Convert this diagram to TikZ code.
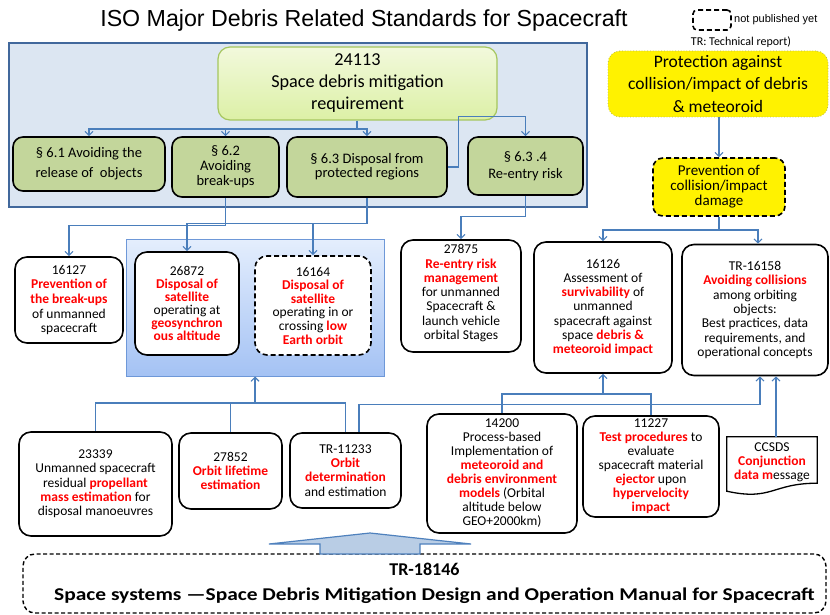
\documentclass[tikz,border=0pt]{standalone}
\usepackage{fontspec}
\usepackage{graphicx}
\setmainfont{Carlito}
\newfontfamily\arialf{Liberation Sans}
\usetikzlibrary{arrows.meta,calc}
\definecolor{connblue}{HTML}{4A7EBB}
\definecolor{outerfill}{HTML}{DCE6F2}
\definecolor{outerdraw}{HTML}{41689C}
\definecolor{greenbox}{HTML}{C3D69B}
\definecolor{lgtop}{HTML}{F2F9DC}
\definecolor{lgbot}{HTML}{DCF0A6}
\definecolor{lgdraw}{HTML}{A5C65E}
\definecolor{grptop}{HTML}{E4EEFD}
\definecolor{grpbot}{HTML}{A4C2F4}
\definecolor{grpdraw}{HTML}{6E98D8}
\definecolor{bigarrfill}{HTML}{B9CDE5}
\definecolor{bigarrdraw}{HTML}{4F81BD}
\definecolor{protdraw}{HTML}{B8B84A}
\newcommand\redb[1]{{\color{red}\bfseries #1}}
\begin{document}
\begin{tikzpicture}[x=1pt,y=-1pt,
  conn/.style={draw=connblue, line width=1.1pt},
  arr/.style={conn, -{Straight Barb[length=4pt,width=8pt]}},
  wbox/.style={draw=black, line width=1.6pt, rounded corners=12pt, fill=white, align=center, inner sep=1pt, font=\fontsize{13.5}{14.3}\selectfont},
  dbox/.style={wbox, dash pattern=on 5pt off 3pt},
  gbox/.style={draw=black, line width=1.6pt, rounded corners=10pt, fill=greenbox, align=center, inner sep=1pt, font=\fontsize{14.5}{15}\selectfont},
  ybox/.style={fill=yellow, align=center, inner sep=1pt}
]
\useasboundingbox (0,0) rectangle (830,615);

% title and legend
\node[font=\arialf\fontsize{23.2}{27}\selectfont] (title) at (364,21) {ISO Major Debris Related Standards for Spacecraft};
\node[draw=black, line width=1.6pt, dash pattern=on 5pt off 3pt, rounded corners=4pt, minimum width=38pt, minimum height=20pt] (legbox) at (712,20) {};
\node[anchor=west, font=\arialf\fontsize{11}{13}\selectfont, inner sep=0pt] (legtxt) at (734,20) {not published yet};
\node[font=\fontsize{12}{13}\selectfont, inner sep=0pt] (legtr) at (741,42) {TR: Technical report)};

% outer blue box
\node[draw=outerdraw, line width=2pt, fill=outerfill, minimum width=578pt, minimum height=164pt] (outer) at (298,125) {};

% 24113
\node[draw=lgdraw, line width=1.2pt, top color=lgtop, bottom color=lgbot, rounded corners=12pt, minimum width=279pt, minimum height=73pt, align=center, font=\fontsize{18.2}{22}\selectfont] (n24113) at (357.5,83.5) {24113\\Space debris mitigation\\requirement};

% green section boxes
\node[gbox, minimum width=152pt, minimum height=54pt, font=\fontsize{14.5}{20}\selectfont] (s61) at (89,164) {§ 6.1 Avoiding the\\release of \ objects};
\node[gbox, minimum width=107pt, minimum height=60pt] (s62) at (225.5,167) {§ 6.2\\Avoiding\\break-ups};
\node[gbox, minimum width=160pt, minimum height=60pt, font=\fontsize{14.5}{14}\selectfont] (s63) at (367,167) {§ 6.3 Disposal from\\protected regions};
\node[gbox, minimum width=115pt, minimum height=58pt, font=\fontsize{14.5}{17}\selectfont] (s634) at (525.5,166) {§ 6.3 .4\\Re-entry risk};

% connectors inside the blue box
\coordinate (ja) at (357,129);
\draw[conn] (n24113.south -| ja) -- (ja);
\draw[arr] (ja) -| (s61.north);
\draw[arr] (ja) -| (s62.north);
\draw[arr] (ja) -| (s63.north);
\draw[arr] (s63.east) -- ++(11,0) |- ([yshift=20pt]s634.north) -- (s634.north);

% yellow boxes
\node[ybox, draw=protdraw, line width=0.8pt, dotted, rounded corners=12pt, minimum width=220pt, minimum height=66pt, font=\fontsize{17.5}{22.5}\selectfont] (prot) at (718,84) {Protection against\\collision/impact of debris\\\& meteoroid};
\node[ybox, draw=black, line width=1.6pt, dash pattern=on 5pt off 3pt, rounded corners=10pt, minimum width=132pt, minimum height=58pt, font=\fontsize{15}{15}\selectfont] (prev) at (719,187) {Prevention of\\collision/impact\\damage};
\draw[arr] (prot.south -| prev.north) -- (prev.north);

% group box (GEO / LEO disposal)
\node[draw=grpdraw, line width=1pt, top color=grptop, bottom color=grpbot, minimum width=258pt, minimum height=137pt] (grp) at (255,307.5) {};

% middle row
\node[wbox, minimum width=108pt, minimum height=86pt, font=\fontsize{13.5}{14.7}\selectfont] (n16127) at (69,300) {16127\\\redb{Prevention of}\\\redb{the break-ups}\\of unmanned\\spacecraft};
\node[wbox, minimum width=104pt, minimum height=103pt, font=\fontsize{13.5}{12.9}\selectfont] (n26872) at (187,303.5) {26872\\\redb{Disposal of}\\\redb{satellite}\\operating at\\\redb{geosynchron}\\\redb{ous altitude}};
\node[dbox, minimum width=116pt, minimum height=99pt, font=\fontsize{13.5}{13.6}\selectfont] (n16164) at (313,305.5) {16164\\\redb{Disposal of}\\\redb{satellite}\\operating in or\\crossing \redb{low}\\\redb{Earth orbit}};
\node[wbox, minimum width=120pt, minimum height=112pt, text depth=8pt] (n27875) at (461,296) {27875\\\redb{Re-entry risk}\\\redb{management}\\for unmanned\\Spacecraft \&\\launch vehicle\\orbital Stages};
\node[wbox, minimum width=138pt, minimum height=131pt] (n16126) at (603,307.5) {16126\\Assessment of\\\redb{survivability} of\\unmanned\\spacecraft against\\space \redb{debris \&}\\\redb{meteoroid impact}};
\node[wbox, minimum width=146pt, minimum height=131pt] (n16158) at (755,310) {TR-16158\\\redb{Avoiding collisions}\\among orbiting\\objects:\\Best practices, data\\requirements, and\\operational concepts};

% connectors to middle row
\draw[arr] (s62.south) |- ([yshift=31pt]n16127.north) -- (n16127.north);
\draw[arr] (s63.south) |- ([yshift=28pt]n26872.north) -- (n26872.north);
\draw[arr] (s63.south) |- ([yshift=32pt]n16164.north) -- (n16164.north);
\draw[arr] (s634.south) |- ([yshift=23pt]n27875.north) -- (n27875.north);
\coordinate (jp) at (719,230);
\draw[conn] (prev.south) -- (jp);
\draw[arr] (jp) -| (n16126.north);
\draw[arr] (jp) -| ([xshift=3pt]n16158.north);

% bottom row
\node[wbox, minimum width=153pt, minimum height=104pt] (n23339) at (95.5,484) {23339\\Unmanned spacecraft\\residual \redb{propellant}\\\redb{mass estimation} for\\disposal manoeuvres};
\node[wbox, minimum width=103pt, minimum height=76pt] (n27852) at (230.5,471) {27852\\\redb{Orbit lifetime}\\\redb{estimation}};
\node[wbox, minimum width=111pt, minimum height=75pt] (n11233) at (345.5,470.5) {TR-11233\\\redb{Orbit}\\\redb{determination}\\and estimation};
\node[wbox, minimum width=150pt, minimum height=119pt, font=\fontsize{13.5}{14}\selectfont] (n14200) at (502,473.5) {14200\\Process-based\\Implementation of\\\redb{meteoroid and}\\\redb{debris environment}\\\redb{models} (Orbital\\altitude below\\GEO+2000km)};
\node[wbox, minimum width=136pt, minimum height=101pt, font=\fontsize{13.5}{14}\selectfont] (n11227) at (651,466.5) {11227\\\redb{Test procedures} to\\evaluate\\spacecraft material\\\redb{ejector} upon\\\redb{hypervelocity}\\\redb{impact}};

% CCSDS document shape
\node[align=center, inner sep=0pt, minimum width=90pt, minimum height=50pt, font=\fontsize{13.5}{14.2}\selectfont] (ccsds) at (772,462) {CCSDS\\\redb{Conjunction}\\\redb{data m}essage};
\draw[black, line width=1.3pt] (ccsds.north west) -- (ccsds.north east) -- ([yshift=4pt]ccsds.south east) .. controls ([yshift=4pt]ccsds.south) and ([yshift=-14pt]ccsds.south) .. ([yshift=-4pt]ccsds.south west) -- cycle;

% connectors from bottom row
\coordinate (jb) at (255,403);
\draw[conn] (n23339.north) |- (jb);
\draw[conn] (n27852.north) |- (jb);
\draw[conn] (n11233.north) |- (jb);
\draw[arr] (jb) -- (grp.south);
\draw[arr] ([xshift=13.5pt]n11233.north) |- ([xshift=5pt,yshift=-28pt]n16158.south) -- ([xshift=5pt]n16158.south);
\coordinate (jc) at (603,394);
\draw[conn] (n14200.north) |- (jc);
\draw[conn] (n11227.north) |- (jc);
\draw[arr] (jc) -- (n16126.south);
\draw[arr] ([xshift=4pt]ccsds.north) -- ([xshift=4pt]ccsds.north |- n16158.south);

% bottom manual box and big arrow
\node[draw=black, line width=1.4pt, dash pattern=on 4pt off 2.5pt, rounded corners=12pt, minimum width=803pt, minimum height=59pt, align=center, font=\bfseries\fontsize{18}{25}\selectfont] (bottom) at (424.5,583.5) {TR-18146\\\hspace*{20pt}\scalebox{1.19}[1]{Space systems —Space Debris Mitigation Design and Operation Manual for Spacecraft}};
\draw[draw=bigarrdraw, fill=bigarrfill, line width=1.2pt, line join=miter] (269,544) -- (370,533) -- (471,544) -- (420,544) -- (420,554) -- (320,554) -- (320,544) -- cycle;
\end{tikzpicture}
\end{document}
